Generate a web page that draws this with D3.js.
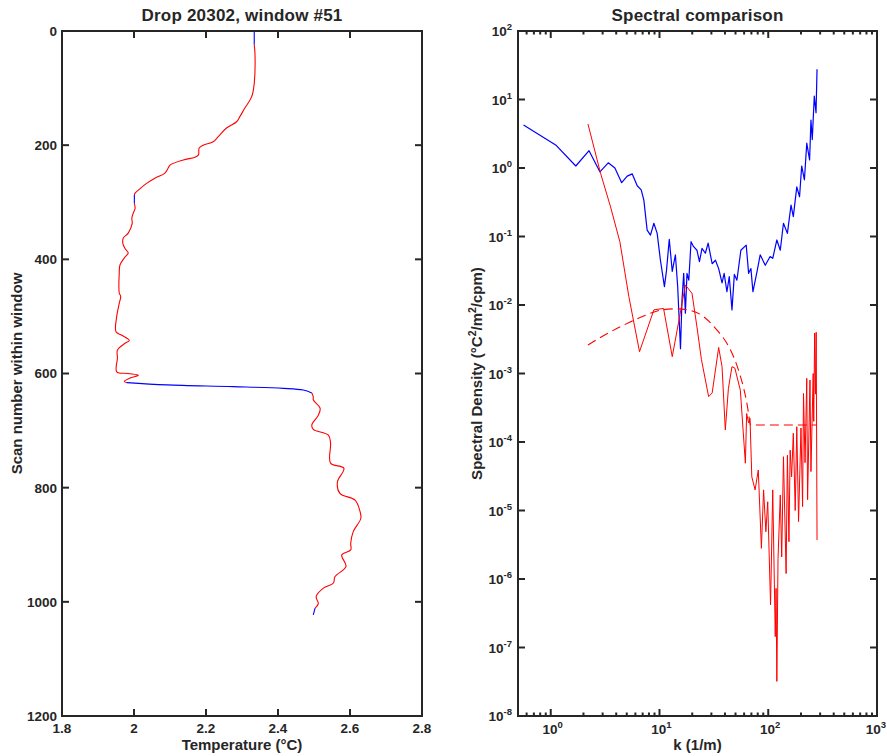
<!DOCTYPE html>
<html>
<head>
<meta charset="utf-8">
<script src="https://cdn.jsdelivr.net/npm/d3@7"></script>
<style>
  html, body { margin: 0; padding: 0; background: #fff; }
  svg { display: block; font-family: "Liberation Sans", Arial, Helvetica, sans-serif; }
  text { fill: #262626; font-weight: bold; }
</style>
</head>
<body>
<svg id="chart" width="887" height="756"></svg>
<script>
// ---------------- DATA ----------------
// Left panel: temperature profile
const scanNum = [0, 24, 39, 92, 115, 135, 150, 159, 170, 185, 194, 200, 205, 217, 221, 226, 235, 240, 249, 258, 267, 276, 284, 287, 302, 311, 319, 328, 337, 354, 363, 372, 381, 389, 396, 410, 424, 459, 465, 477, 500, 527, 533, 542, 547, 559, 573, 597, 600, 603, 608, 614, 616, 620, 623, 626, 629, 634, 641, 646, 661, 673, 690, 698, 708, 722, 757, 766, 790, 810, 822, 842, 854, 877, 897, 909, 918, 938, 956, 967, 976, 991, 1003, 1011, 1023];
const temperature = [2.334, 2.334, 2.336, 2.334, 2.327, 2.308, 2.294, 2.285, 2.257, 2.234, 2.220, 2.192, 2.181, 2.179, 2.169, 2.137, 2.100, 2.095, 2.086, 2.058, 2.035, 2.017, 2.003, 2.001, 2.001, 2.003, 1.998, 1.994, 1.995, 1.984, 1.970, 1.969, 1.975, 1.984, 1.975, 1.961, 1.959, 1.959, 1.963, 1.959, 1.952, 1.950, 1.966, 1.987, 1.975, 1.954, 1.954, 1.952, 1.984, 2.012, 1.989, 1.973, 1.980, 2.091, 2.276, 2.415, 2.470, 2.494, 2.498, 2.498, 2.517, 2.512, 2.494, 2.498, 2.540, 2.546, 2.546, 2.583, 2.565, 2.572, 2.614, 2.628, 2.630, 2.609, 2.602, 2.602, 2.577, 2.589, 2.558, 2.554, 2.526, 2.506, 2.512, 2.503, 2.498];
// scan ranges drawn in blue (flagged sections)
const flaggedRanges = [[0, 24], [287, 302], [616, 634], [1011, 1023]];

const tempTicks = [1.8, 2.0, 2.2, 2.4, 2.6, 2.8];
const tempTickLabels = ["1.8", "2", "2.2", "2.4", "2.6", "2.8"];
const scanTicks = [0, 200, 400, 600, 800, 1000, 1200];
const scanTickLabels = ["0", "200", "400", "600", "800", "1000", "1200"];

// Right panel: spectra
const kObs = [0.562, 1.11, 1.70, 2.25, 2.83, 3.38, 3.89, 4.49, 5.05, 5.62, 6.24, 6.79, 7.18, 7.70, 8.26, 8.88, 9.52, 10.2, 11.1, 11.6, 12.3, 13.1, 14.0, 14.7, 15.6, 16.1, 16.7, 17.3, 17.9, 18.6, 19.5, 20.6, 22.1, 23.3, 24.6, 26.4, 28.0, 30.5, 32.7, 35.0, 37.6, 39.3, 41.7, 43.8, 46.4, 48.8, 51.5, 56.0, 62.7, 66.0, 69.3, 72.3, 78.9, 84.3, 93.9, 104, 110, 120, 129, 138, 150, 162, 170, 183, 194, 203, 215, 226, 240, 247, 254, 265, 275, 281];
const sObs = [4.24, 2.17, 1.07, 1.79, 0.88, 1.19, 1.0, 0.61, 0.76, 0.82, 0.55, 0.48, 0.34, 0.124, 0.105, 0.156, 0.111, 0.045, 0.0185, 0.032, 0.091, 0.031, 0.054, 0.0185, 0.0023, 0.0118, 0.029, 0.0076, 0.029, 0.023, 0.084, 0.071, 0.063, 0.043, 0.067, 0.057, 0.080, 0.040, 0.045, 0.034, 0.021, 0.029, 0.0156, 0.026, 0.0085, 0.028, 0.023, 0.063, 0.075, 0.029, 0.034, 0.0156, 0.031, 0.054, 0.038, 0.051, 0.048, 0.089, 0.063, 0.156, 0.111, 0.288, 0.195, 0.53, 0.38, 1.07, 0.67, 2.30, 1.31, 5.0, 2.6, 11.2, 6.4, 27.6];

const kCorr = [2.20, 2.87, 3.55, 4.32, 5.23, 6.55, 8.88, 10.9, 13.1, 15.3, 17.3, 19.9, 22.1, 24.3, 28.3, 30.5, 35.0, 37.6, 40.3, 43.0, 46.4, 49.3, 55.4, 61.6, 63.3, 66.0, 68.0, 70.6, 75.7, 81.0, 86.5, 90.6, 95.1, 98.9, 105, 110, 116, 118, 120, 123, 129, 133, 138, 146, 150, 155, 159, 164, 170, 177, 183, 190, 200, 207, 211, 218, 226, 230, 242, 247, 259, 262, 267, 272, 276, 281];
const sCorr = [4.38, 0.84, 0.27, 0.084, 0.0132, 0.00208, 0.0085, 0.0089, 0.00176, 0.0067, 0.0196, 0.0148, 0.0048, 0.0016, 0.00046, 0.00052, 0.0024, 0.00126, 0.00015, 0.0006, 0.00126, 0.0012, 0.00057, 4.9e-5, 0.00026, 0.00019, 0.00022, 3.1e-5, 2.0e-5, 3.9e-5, 2.8e-6, 2.0e-5, 4.9e-6, 1.34e-5, 4.2e-7, 2.0e-5, 1.44e-7, 7.3e-7, 3.2e-8, 2.0e-6, 1.68e-5, 2.1e-6, 6.1e-5, 1.2e-6, 6.4e-5, 3.5e-6, 7.6e-5, 3.1e-5, 1.34e-4, 1.0e-5, 1.67e-4, 6.9e-6, 1.6e-4, 1.14e-5, 0.00051, 5.0e-5, 0.00085, 1.44e-5, 0.0008, 3.7e-5, 0.001, 0.0002, 0.0039, 0.0005, 0.0040, 3.7e-6];

const kFit = [2.2, 2.78, 4.7, 6.7, 10.6, 14.0, 17.9, 23.7, 33.8, 43.2, 48.0, 55.0, 59.0, 63.0, 66.0, 68.5, 281];
const sFit = [0.0026, 0.00327, 0.0051, 0.0066, 0.0085, 0.0088, 0.0085, 0.0073, 0.0043, 0.0025, 0.00176, 0.00095, 0.00064, 0.00040, 0.00026, 0.000177, 0.000177];

const kTicksMajor = [1e0, 1e1, 1e2, 1e3];
const kTickLabels = [["10", "0"], ["10", "1"], ["10", "2"], ["10", "3"]];
const sTicksMajor = [1e2, 1e1, 1e0, 1e-1, 1e-2, 1e-3, 1e-4, 1e-5, 1e-6, 1e-7, 1e-8];
const sTickLabels = [["10","2"],["10","1"],["10","0"],["10","-1"],["10","-2"],["10","-3"],["10","-4"],["10","-5"],["10","-6"],["10","-7"],["10","-8"]];

// ---------------- DRAW ----------------
const svg = d3.select("#chart");
const AX = "#262626";
const MAJ = 7, MIN = 3.5;

// Left panel
const L = {x0: 62, x1: 422, y0: 31, y1: 716};
const xT = d3.scaleLinear().domain([1.8, 2.8]).range([L.x0, L.x1]);
const yS = d3.scaleLinear().domain([0, 1200]).range([L.y0, L.y1]);

const gL = svg.append("g");
const profile = scanNum.map((s, i) => ({s, t: temperature[i]}));
const inFlag = s => flaggedRanges.some(r => s >= r[0] && s <= r[1]);
// split into coloured runs of consecutive segments
const runs = [];
let cur = null;
for (let i = 0; i < profile.length - 1; i++) {
  const a = profile[i], b = profile[i + 1];
  const color = (inFlag(a.s) && inFlag(b.s)) ? "#0000ff" : "#ff0000";
  if (!cur || cur.color !== color) { cur = {color, pts: [a]}; runs.push(cur); }
  cur.pts.push(b);
}
const lineL = d3.line().x(d => xT(d.t)).y(d => yS(d.s)).curve(d3.curveCatmullRom.alpha(0.5));
gL.selectAll("path.prof").data(runs).join("path").attr("class", "prof")
  .attr("d", d => lineL(d.pts))
  .attr("fill", "none").attr("stroke", d => d.color).attr("stroke-width", 1.1);

function box(g, P) {
  g.append("rect").attr("x", P.x0).attr("y", P.y0)
    .attr("width", P.x1 - P.x0).attr("height", P.y1 - P.y0)
    .attr("fill", "none").attr("stroke", AX).attr("stroke-width", 2);
}
tempTicks.forEach((v, i) => {
  const x = xT(v);
  gL.append("line").attr("x1", x).attr("x2", x).attr("y1", L.y1).attr("y2", L.y1 - MAJ).attr("stroke", AX).attr("stroke-width", 2);
  gL.append("line").attr("x1", x).attr("x2", x).attr("y1", L.y0).attr("y2", L.y0 + MAJ).attr("stroke", AX).attr("stroke-width", 2);
  gL.append("text").attr("x", x).attr("y", 733).attr("text-anchor", "middle")
    .style("font-size", "13.5px").text(tempTickLabels[i]);
});
scanTicks.forEach((v, i) => {
  const y = yS(v);
  gL.append("line").attr("x1", L.x0).attr("x2", L.x0 + MAJ).attr("y1", y).attr("y2", y).attr("stroke", AX).attr("stroke-width", 2);
  gL.append("line").attr("x1", L.x1).attr("x2", L.x1 - MAJ).attr("y1", y).attr("y2", y).attr("stroke", AX).attr("stroke-width", 2);
  gL.append("text").attr("x", 57).attr("y", y).attr("dy", "0.36em").attr("text-anchor", "end")
    .style("font-size", "13.5px").text(scanTickLabels[i]);
});
box(gL, L);
gL.append("text").attr("x", (L.x0 + L.x1) / 2).attr("y", 21).attr("text-anchor", "middle")
  .style("font-size", "17px").style("letter-spacing", "0.2px").text("Drop 20302, window #51");
gL.append("text").attr("x", (L.x0 + L.x1) / 2).attr("y", 750).attr("text-anchor", "middle")
  .style("font-size", "15px").text("Temperature (°C)");
gL.append("text").attr("transform", `translate(22,${(L.y0 + L.y1) / 2}) rotate(-90)`)
  .attr("text-anchor", "middle").style("font-size", "15px").text("Scan number within window");

// Right panel
const R = {x0: 518, x1: 877, y0: 31, y1: 716};
const xK = d3.scaleLog().domain([0.5, 1000]).range([R.x0, R.x1]);
const yP = d3.scaleLog().domain([1e-8, 1e2]).range([R.y1, R.y0]);
const gR = svg.append("g");

const lineR = d3.line().x(d => xK(d.k)).y(d => yP(d.s));
const obs = kObs.map((k, i) => ({k, s: sObs[i]}));
const corr = kCorr.map((k, i) => ({k, s: sCorr[i]}));
const fit = kFit.map((k, i) => ({k, s: sFit[i]}));

gR.append("path").datum(obs).attr("d", lineR).attr("fill", "none")
  .attr("stroke", "#0000ff").attr("stroke-width", 1.2).attr("stroke-linejoin", "round");
gR.append("path").datum(corr).attr("d", lineR).attr("fill", "none")
  .attr("stroke", "#ff0000").attr("stroke-width", 1.0).attr("stroke-linejoin", "round");
gR.append("path").datum(fit).attr("d", d3.line().x(d => xK(d.k)).y(d => yP(d.s)).curve(d3.curveMonotoneX))
  .attr("fill", "none").attr("stroke", "#ff0000").attr("stroke-width", 1.1)
  .attr("stroke-dasharray", "9,5");

const isMajor = v => Math.abs(Math.log10(v) - Math.round(Math.log10(v))) < 1e-9;
xK.ticks().forEach(v => {
  const x = xK(v);
  const len = isMajor(v) ? MAJ : MIN;
  gR.append("line").attr("x1", x).attr("x2", x).attr("y1", R.y1).attr("y2", R.y1 - len).attr("stroke", AX).attr("stroke-width", 2);
  gR.append("line").attr("x1", x).attr("x2", x).attr("y1", R.y0).attr("y2", R.y0 + len).attr("stroke", AX).attr("stroke-width", 2);
});
yP.ticks().forEach(v => {
  const y = yP(v);
  const len = isMajor(v) ? MAJ : MIN;
  gR.append("line").attr("x1", R.x0).attr("x2", R.x0 + len).attr("y1", y).attr("y2", y).attr("stroke", AX).attr("stroke-width", 2);
  gR.append("line").attr("x1", R.x1).attr("x2", R.x1 - len).attr("y1", y).attr("y2", y).attr("stroke", AX).attr("stroke-width", 2);
});
box(gR, R);

kTicksMajor.forEach((v, i) => {
  const last = i === kTicksMajor.length - 1;
  const t = gR.append("text").attr("x", last ? 886 : xK(v) + 2).attr("y", 734)
    .attr("text-anchor", last ? "end" : "middle")
    .style("font-size", "13.5px");
  t.append("tspan").text(kTickLabels[i][0]);
  t.append("tspan").attr("dy", "-6").style("font-size", "9.5px").text(kTickLabels[i][1]);
});
sTicksMajor.forEach((v, i) => {
  const t = gR.append("text").attr("x", 512).attr("y", yP(v) + 5).attr("text-anchor", "end")
    .style("font-size", "13.5px");
  t.append("tspan").text(sTickLabels[i][0]);
  t.append("tspan").attr("dy", "-6").style("font-size", "9.5px").text(sTickLabels[i][1]);
});

gR.append("text").attr("x", (R.x0 + R.x1) / 2).attr("y", 21).attr("text-anchor", "middle")
  .style("font-size", "17px").style("letter-spacing", "0.2px").text("Spectral comparison");
gR.append("text").attr("x", (R.x0 + R.x1) / 2).attr("y", 750).attr("text-anchor", "middle")
  .style("font-size", "15px").text("k (1/m)");
const yl = gR.append("text").attr("transform", `translate(482,${(R.y0 + R.y1) / 2}) rotate(-90)`)
  .attr("text-anchor", "middle").style("font-size", "15px");
yl.append("tspan").text("Spectral Density (°C");
yl.append("tspan").attr("dy", "-6").style("font-size", "10.5px").text("2");
yl.append("tspan").attr("dy", "6").text("/m");
yl.append("tspan").attr("dy", "-6").style("font-size", "10.5px").text("2");
yl.append("tspan").attr("dy", "6").text("/cpm)");
</script>
</body>
</html>
